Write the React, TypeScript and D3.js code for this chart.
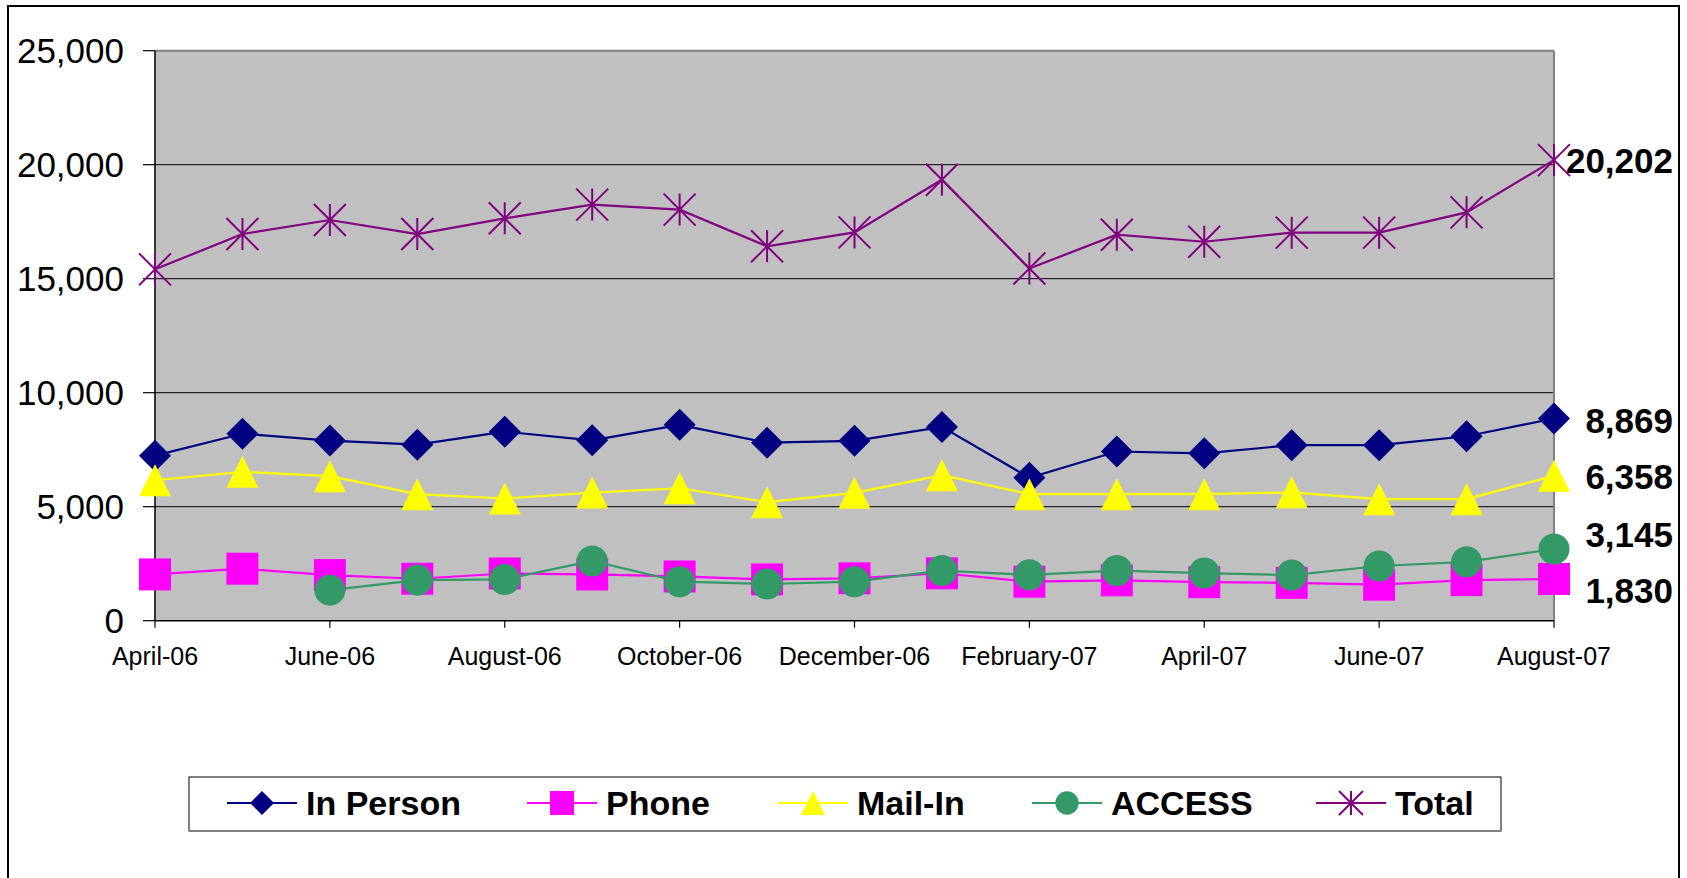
import React from "react";
import * as d3 from "d3";

const months = [
  "April-06", "May-06", "June-06", "July-06", "August-06", "September-06",
  "October-06", "November-06", "December-06", "January-07", "February-07",
  "March-07", "April-07", "May-07", "June-07", "July-07", "August-07",
];
const tickLabels = [
  "April-06", "June-06", "August-06", "October-06", "December-06",
  "February-07", "April-07", "June-07", "August-07",
];
const yTicks = [0, 5000, 10000, 15000, 20000, 25000];

const inPerson = [7240, 8200, 7900, 7720, 8290, 7910, 8590, 7810, 7890, 8500, 6270, 7420, 7340, 7700, 7700, 8090, 8869];
const phone = [2030, 2280, 2000, 1840, 2070, 2030, 1940, 1810, 1860, 2080, 1710, 1770, 1690, 1660, 1580, 1780, 1830];
const mailIn = [6160, 6530, 6340, 5550, 5360, 5620, 5810, 5200, 5610, 6380, 5550, 5550, 5550, 5630, 5330, 5330, 6358];
const access: (number | null)[] = [null, null, 1340, 1780, 1810, 2620, 1710, 1610, 1710, 2200, 2010, 2200, 2090, 2000, 2400, 2580, 3145];
const total = [15410, 16960, 17575, 16960, 17648, 18250, 18030, 16420, 17030, 19340, 15450, 16930, 16620, 17020, 17020, 17910, 20202];

type MarkerType = "diamond" | "square" | "triangle" | "circle" | "star";

const series: { name: string; values: (number | null)[]; color: string; marker: MarkerType; labelDy: number }[] = [
  { name: "In Person", values: inPerson, color: "#000080", marker: "diamond", labelDy: 2 },
  { name: "Phone", values: phone, color: "#FF00FF", marker: "square", labelDy: 11 },
  { name: "Mail-In", values: mailIn, color: "#FFFF00", marker: "triangle", labelDy: 1 },
  { name: "ACCESS", values: access, color: "#339966", marker: "circle", labelDy: -15 },
  { name: "Total", values: total, color: "#800080", marker: "star", labelDy: 0 },
];

const W = 1687;
const H = 878;
const plot = { left: 155, right: 1554, top: 50.7, bottom: 620.7 };
const FONT = "'Liberation Sans', Arial, Helvetica, sans-serif";

function Marker({ type, x, y, s, color }: { type: MarkerType; x: number; y: number; s: number; color: string }) {
  const h = s / 2;
  switch (type) {
    case "diamond":
      return <path d={`M${x},${y - h}L${x + h},${y}L${x},${y + h}L${x - h},${y}Z`} fill={color} />;
    case "square":
      return <rect x={x - h} y={y - h} width={s} height={s} fill={color} />;
    case "triangle":
      return <path d={`M${x},${y - h}L${x + h},${y + h}L${x - h},${y + h}Z`} fill={color} />;
    case "circle":
      return <circle cx={x} cy={y} r={h * 0.97} fill={color} />;
    case "star":
      return (
        <path
          d={`M${x - h},${y - h}L${x + h},${y + h}M${x + h},${y - h}L${x - h},${y + h}M${x},${y - h}L${x},${y + h}`}
          stroke={color}
          strokeWidth={2}
          fill="none"
        />
      );
  }
}

export default function App() {
  const x = d3.scalePoint<string>().domain(months).range([plot.left, plot.right]);
  const y = d3.scaleLinear().domain([0, 25000]).range([plot.bottom, plot.top]);
  const line = d3
    .line<number | null>()
    .defined((d) => d !== null)
    .x((_, i) => x(months[i]) as number)
    .y((d) => y(d as number));

  const legendStarts = [227, 527, 778, 1032, 1316];
  const legendY = 803;

  return (
    <svg width={W} height={H} style={{ position: "absolute", left: 0, top: 0, background: "#fff" }} fontFamily={FONT}>
      <rect x={0} y={0} width={W} height={H} fill="#fff" />
      {/* outer frame */}
      <rect x={8} y={6} width={1671} height={H + 20} fill="none" stroke="#000" strokeWidth={2} />

      {/* plot area */}
      <rect x={plot.left} y={plot.top} width={plot.right - plot.left} height={plot.bottom - plot.top} fill="#C0C0C0" />
      {yTicks.filter((t) => t > 0 && t < 25000).map((t) => (
        <line key={t} x1={plot.left} x2={plot.right} y1={y(t)} y2={y(t)} stroke="#000" strokeWidth={1} />
      ))}
      <line x1={plot.left} x2={plot.right} y1={plot.top} y2={plot.top} stroke="#808080" strokeWidth={2} />
      <line x1={plot.right} x2={plot.right} y1={plot.top} y2={plot.bottom} stroke="#808080" strokeWidth={2} />

      {/* axes */}
      <line x1={plot.left} x2={plot.left} y1={plot.top} y2={plot.bottom} stroke="#000" strokeWidth={1.5} />
      <line x1={plot.left} x2={plot.right} y1={plot.bottom} y2={plot.bottom} stroke="#000" strokeWidth={1.5} />
      {yTicks.map((t) => (
        <g key={t}>
          <line x1={plot.left - 12} x2={plot.left} y1={y(t)} y2={y(t)} stroke="#000" strokeWidth={1.2} />
          <text x={124} y={y(t)} dy="0.36em" textAnchor="end" fontSize={35} fill="#000">
            {d3.format(",")(t)}
          </text>
        </g>
      ))}
      {tickLabels.map((m) => (
        <g key={m}>
          <line x1={x(m)} x2={x(m)} y1={plot.bottom} y2={plot.bottom + 7} stroke="#000" strokeWidth={1.2} />
          <text x={x(m)} y={665} textAnchor="middle" fontSize={25} fill="#000">
            {m}
          </text>
        </g>
      ))}

      {/* series */}
      {series.map((s) => (
        <g key={s.name}>
          <path d={line(s.values) || ""} fill="none" stroke={s.color} strokeWidth={2.2} />
          {s.values.map((v, i) =>
            v === null ? null : (
              <Marker key={i} type={s.marker} x={x(months[i]) as number} y={y(v)} s={32} color={s.color} />
            )
          )}
        </g>
      ))}

      {/* end value labels */}
      {series.map((s) => {
        const v = s.values[s.values.length - 1] as number;
        return (
          <text key={s.name} x={1673} y={y(v) + s.labelDy} dy="0.36em" textAnchor="end" fontSize={35} fontWeight="bold" fill="#000">
            {d3.format(",")(v)}
          </text>
        );
      })}

      {/* legend */}
      <rect x={189} y={777} width={1312} height={54} fill="#fff" stroke="#000" strokeWidth={1} />
      <line x1={189} x2={1501} y1={831} y2={831} stroke="#808080" strokeWidth={2} />
      {series.map((s, i) => {
        const x0 = legendStarts[i];
        return (
          <g key={s.name}>
            <line x1={x0} x2={x0 + 70} y1={legendY} y2={legendY} stroke={s.color} strokeWidth={2.2} />
            <Marker type={s.marker} x={x0 + 35} y={legendY} s={24} color={s.color} />
            <text x={x0 + 79} y={815} fontSize={34} fontWeight="bold" fill="#000">
              {s.name}
            </text>
          </g>
        );
      })}
    </svg>
  );
}
